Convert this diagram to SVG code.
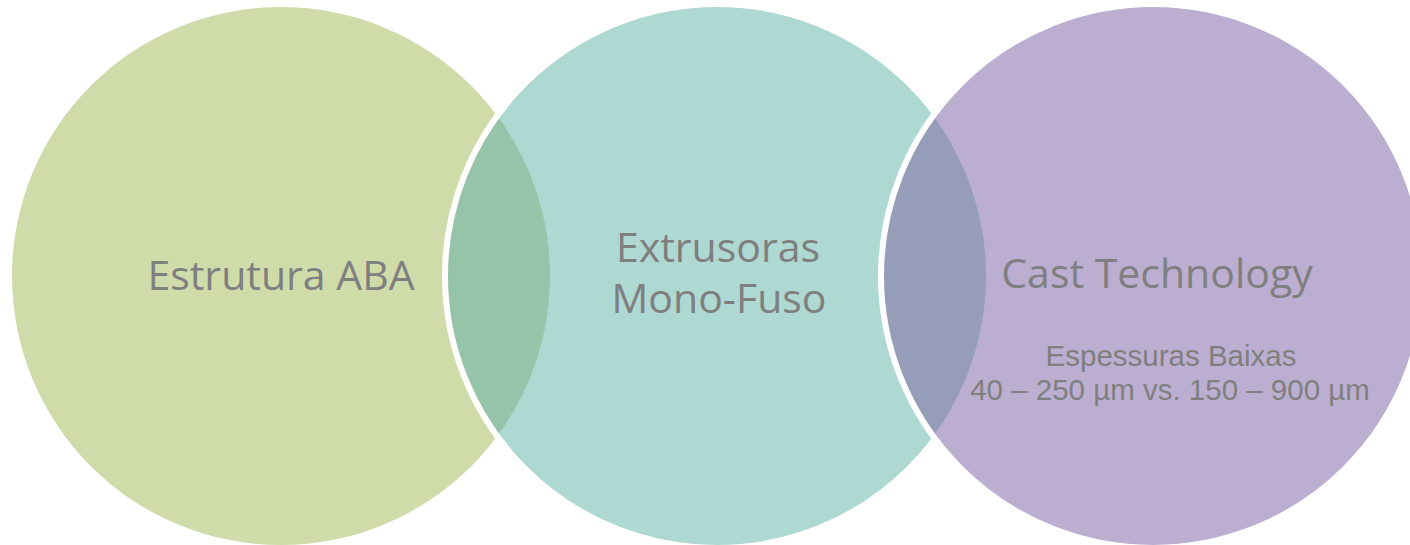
<svg xmlns="http://www.w3.org/2000/svg" width="1410" height="545" viewBox="0 0 1410 545">
  <defs>
    <clipPath id="clipL"><circle cx="281" cy="276" r="269"/></clipPath>
    <clipPath id="clipM"><circle cx="717" cy="276" r="269"/></clipPath>
  </defs>
  <style>
    .ring { fill: none; stroke: #FFFFFF; stroke-width: 6; }
    .main { font-family: "Open Sans", "Noto Sans", sans-serif; font-size: 41px; fill: #7F7F7F; text-anchor: middle; }
    .sub { font-family: "Liberation Sans", Arial, sans-serif; font-size: 29.5px; fill: #7F7F7F; text-anchor: middle; }
  </style>
  <rect x="0" y="0" width="1410" height="545" fill="#FFFFFF"/>
  <g id="node-estrutura">
    <circle cx="281" cy="276" r="269" fill="#CFDCAA"/>
  </g>
  <g id="node-extrusoras">
    <circle cx="717" cy="276" r="272" fill="#AED8D2"/>
    <circle cx="717" cy="276" r="272" fill="#96C4A8" clip-path="url(#clipL)"/>
    <circle class="ring" cx="717" cy="276" r="272"/>
  </g>
  <g id="node-cast">
    <circle cx="1153" cy="276" r="272" fill="#BCAED0"/>
    <circle cx="1153" cy="276" r="272" fill="#969DB9" clip-path="url(#clipM)"/>
    <circle class="ring" cx="1153" cy="276" r="272"/>
  </g>
  <g id="labels">
    <text class="main" x="281" y="290">Estrutura ABA</text>
    <text class="main" x="718" y="262">Extrusoras</text>
    <text class="main" x="719" y="313">Mono-Fuso</text>
    <text class="main" x="1157" y="288">Cast Technology</text>
    <text class="sub" x="1171" y="366">Espessuras Baixas</text>
    <text class="sub" x="1170" y="400">40 – 250 µm vs. 150 – 900 µm</text>
  </g>
  <g id="connectors"></g>
</svg>
